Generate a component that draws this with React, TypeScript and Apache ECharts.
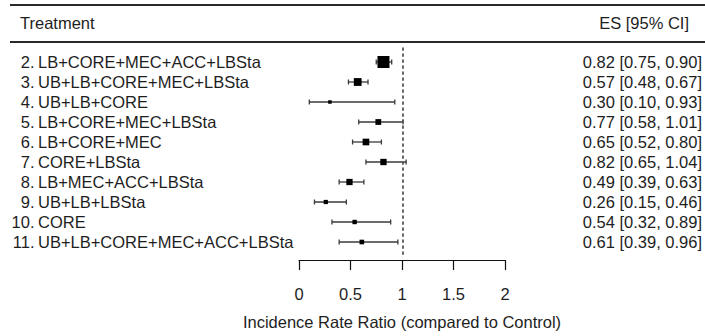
import React, { useEffect, useRef } from "react";
import * as echarts from "echarts";

const rowNums = ["2.", "3.", "4.", "5.", "6.", "7.", "8.", "9.", "10.", "11."];
const treatments = [
  "LB+CORE+MEC+ACC+LBSta",
  "UB+LB+CORE+MEC+LBSta",
  "UB+LB+CORE",
  "LB+CORE+MEC+LBSta",
  "LB+CORE+MEC",
  "CORE+LBSta",
  "LB+MEC+ACC+LBSta",
  "UB+LB+LBSta",
  "CORE",
  "UB+LB+CORE+MEC+ACC+LBSta",
];
const es = [0.82, 0.57, 0.3, 0.77, 0.65, 0.82, 0.49, 0.26, 0.54, 0.61];
const ciLow = [0.75, 0.48, 0.1, 0.58, 0.52, 0.65, 0.39, 0.15, 0.32, 0.39];
const ciHigh = [0.9, 0.67, 0.93, 1.01, 0.8, 1.04, 0.63, 0.46, 0.89, 0.96];
const xTicks = [0, 0.5, 1, 1.5, 2];
const xTitle = "Incidence Rate Ratio (compared to Control)";
const headLeft = "Treatment";
const headRight = "ES [95% CI]";
const refValue = 1;

const FONT = "'Liberation Sans', Arial, Helvetica, sans-serif";
const TEXT = "#1e1e1e";

export default function App() {
  const ref = useRef<HTMLDivElement>(null);
  useEffect(() => {
    if (!ref.current) return;
    const chart = echarts.init(ref.current, undefined, { renderer: "svg" });

    // marker size proportional to precision (1/SE on log scale), metafor-style
    const prec = es.map((_, i) => 3.92 / (Math.log(ciHigh[i]) - Math.log(ciLow[i])));
    const pMin = Math.min(...prec);
    const pMax = Math.max(...prec);
    const sizes = prec.map((p) => ((p - pMin) / (pMax - pMin)) * 8.5 + 3.5);

    const esLabels = es.map(
      (v, i) => `${v.toFixed(2)} [${ciLow[i].toFixed(2)}, ${ciHigh[i].toFixed(2)}]`
    );
    const data = es.map((v, i) => [v, i, ciLow[i], ciHigh[i], sizes[i]]);

    const catLabelBase = {
      fontFamily: FONT,
      fontSize: 16.5,
      color: TEXT,
      interval: 0,
    };

    chart.setOption({
      animation: false,
      grid: [
        { left: 299, right: 198, top: 52, bottom: 84 },
        { left: 299, right: 198, top: 45, bottom: 82 },
      ],
      xAxis: [
        {
          type: "value",
          gridIndex: 0,
          min: 0,
          max: 2,
          interval: 0.5,
          offset: 8,
          splitLine: { show: false },
          axisLine: { show: true, lineStyle: { color: "#111", width: 1.2 } },
          axisTick: { show: true, length: 10, lineStyle: { color: "#111", width: 1.2 } },
          axisLabel: {
            fontFamily: FONT,
            fontSize: 16.5,
            color: TEXT,
            margin: 25,
            formatter: (v: number) => (xTicks.includes(v) ? String(v) : ""),
          },
          name: xTitle,
          nameLocation: "middle",
          nameGap: 53,
          nameTextStyle: { fontFamily: FONT, fontSize: 16.5, color: TEXT },
        },
        {
          type: "value",
          gridIndex: 1,
          min: 0,
          max: 2,
          show: false,
        },
      ],
      yAxis: [
        {
          type: "category",
          gridIndex: 0,
          data: treatments,
          inverse: true,
          axisLine: { show: false },
          axisTick: { show: false },
          axisLabel: { ...catLabelBase, align: "left", margin: 261 },
        },
        {
          type: "category",
          gridIndex: 0,
          data: rowNums,
          inverse: true,
          position: "left",
          axisLine: { show: false },
          axisTick: { show: false },
          axisLabel: { ...catLabelBase, align: "right", margin: 264.5 },
        },
        {
          type: "category",
          gridIndex: 0,
          data: esLabels,
          inverse: true,
          position: "right",
          axisLine: { show: false },
          axisTick: { show: false },
          axisLabel: { ...catLabelBase, align: "right", margin: 197 },
        },
        {
          type: "value",
          gridIndex: 1,
          min: 0,
          max: 1,
          show: false,
        },
      ],
      series: [
        {
          type: "custom",
          xAxisIndex: 0,
          yAxisIndex: 0,
          data,
          encode: { x: [0, 2, 3], y: 1 },
          renderItem: (_params: any, api: any) => {
            const row = api.value(1);
            const c = api.coord([api.value(0), row]);
            const pl = api.coord([api.value(2), row]);
            const ph = api.coord([api.value(3), row]);
            const s = api.value(4);
            const lineStyle = { stroke: "#3a3a3a", lineWidth: 1.3 };
            return {
              type: "group",
              children: [
                { type: "line", shape: { x1: pl[0], y1: pl[1], x2: ph[0], y2: ph[1] }, style: lineStyle },
                { type: "line", shape: { x1: pl[0], y1: pl[1] - 2.5, x2: pl[0], y2: pl[1] + 2.5 }, style: lineStyle },
                { type: "line", shape: { x1: ph[0], y1: ph[1] - 2.5, x2: ph[0], y2: ph[1] + 2.5 }, style: lineStyle },
                {
                  type: "rect",
                  shape: { x: c[0] - s / 2, y: c[1] - s / 2, width: s, height: s },
                  style: { fill: "#000" },
                },
              ],
            };
          },
        },
        {
          type: "line",
          xAxisIndex: 1,
          yAxisIndex: 3,
          data: [
            [refValue, 0],
            [refValue, 1],
          ],
          symbol: "none",
          lineStyle: { color: "#555", width: 1.8, type: [1.8, 4.2], cap: "round" },
        },
      ],
      graphic: [
        { type: "line", shape: { x1: 10, y1: 5, x2: 705, y2: 5 }, style: { stroke: "#2a2a2a", lineWidth: 2 } },
        { type: "line", shape: { x1: 10, y1: 42, x2: 705, y2: 42 }, style: { stroke: "#2a2a2a", lineWidth: 2 } },
        {
          type: "text",
          x: 20,
          y: 23,
          style: { text: headLeft, font: `16.5px ${FONT}`, fill: TEXT, textVerticalAlign: "middle", textAlign: "left" },
        },
        {
          type: "text",
          x: 689,
          y: 23,
          style: { text: headRight, font: `16.5px ${FONT}`, fill: TEXT, textVerticalAlign: "middle", textAlign: "right" },
        },
      ],
    });
    return () => chart.dispose();
  }, []);
  return (
    <div
      ref={ref}
      style={{ position: "fixed", left: 0, top: 0, width: 705, height: 336, background: "#fff" }}
    />
  );
}
